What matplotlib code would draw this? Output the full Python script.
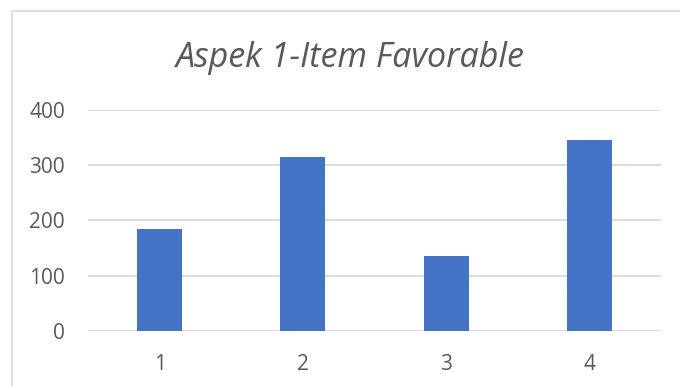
import matplotlib.pyplot as plt
from matplotlib.patches import Rectangle

categories = ['1', '2', '3', '4']
values = [185, 314, 135, 346]
y_ticks = [0, 100, 200, 300, 400]

W, H = 680, 386
fig = plt.figure(figsize=(W / 100, H / 100), dpi=100)
fig.patch.set_facecolor('white')

# chart border (goes off right / bottom edges like the screenshot)
fig.patches.append(Rectangle((12 / W, -1), 2, 1 + (H - 11) / H, transform=fig.transFigure,
                             fill=False, edgecolor='#D9D9D9', linewidth=1.2))

ax = fig.add_axes([88 / W, (H - 330.7) / H, (661 - 88) / W, (330.7 - 110) / H])
x = range(1, len(categories) + 1)
ax.bar(x, values, width=0.314, color='#4472C4', zorder=3)

ax.set_xlim(0.5, 4.5)
ax.set_ylim(0, 400)
ax.set_yticks(y_ticks)
ax.set_xticks(list(x))
ax.set_xticklabels(categories)
ax.grid(axis='y', color='#D9D9D9', linewidth=1.3, zorder=0)
ax.set_axisbelow(True)
for s in ax.spines.values():
    s.set_visible(False)
ax.tick_params(length=0, labelsize=15, labelcolor='#595959')
ax.tick_params(axis='y', pad=16.5)
ax.tick_params(axis='x', pad=17)
for lab in ax.get_xticklabels() + ax.get_yticklabels():
    lab.set_family('Open Sans')

fig.text(350 / W, 1 - 58 / H, 'Aspek 1-Item Favorable', ha='center', va='center',
         fontsize=24.5, style='italic', color='#595959', family='Open Sans')

fig.savefig('out.png', dpi=100)
